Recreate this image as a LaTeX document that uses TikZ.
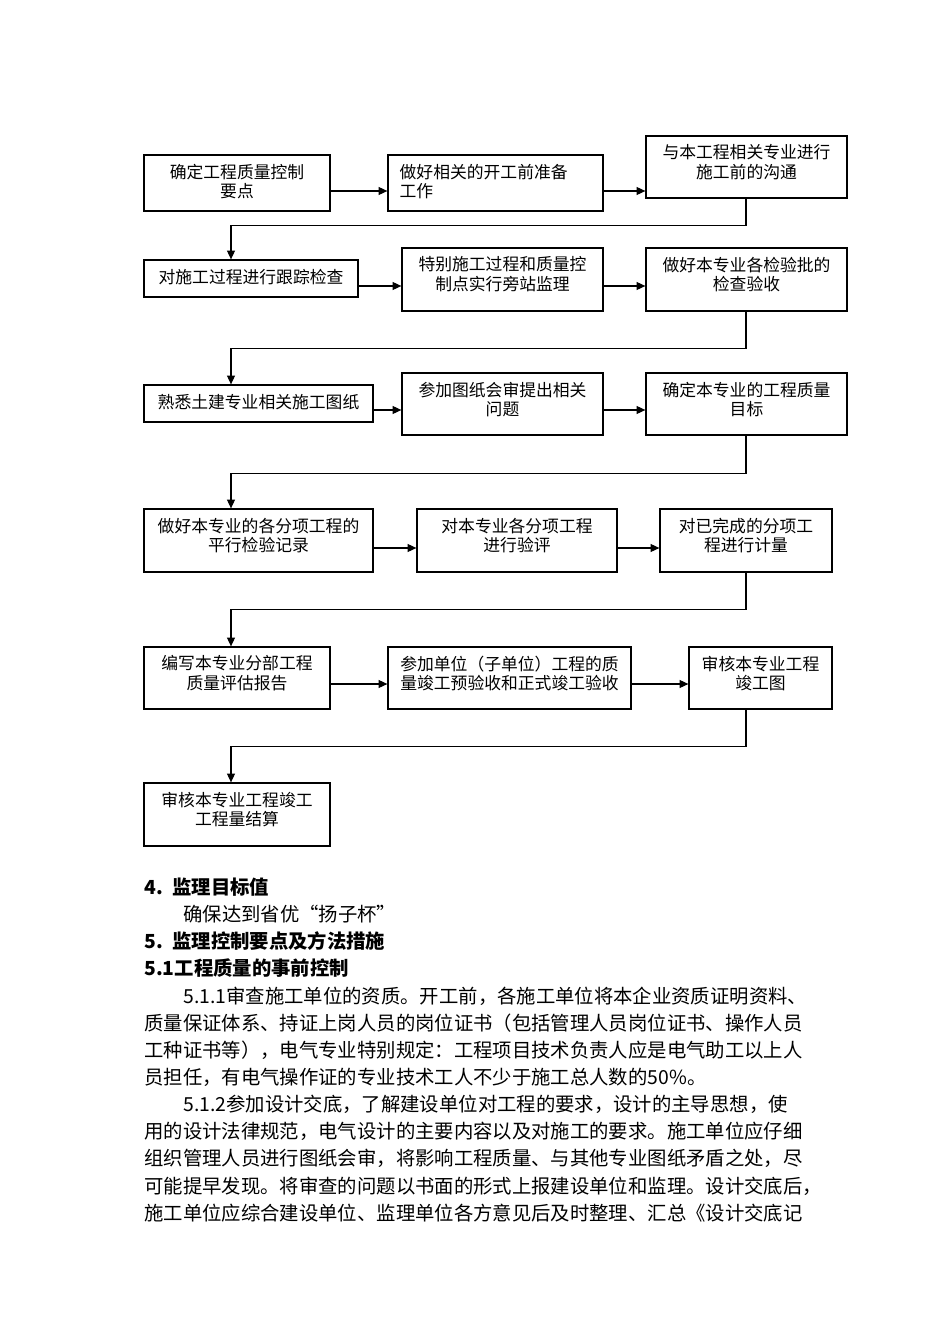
\documentclass[tikz,border=0pt]{standalone}
\usepackage{fontspec}
\newfontfamily\cjk{Noto Sans CJK SC}
\usetikzlibrary{arrows.meta,fit,calc}
\XeTeXlinebreaklocale "zh"
\XeTeXlinebreakskip=0pt plus 1pt
\begin{document}
\begin{tikzpicture}[x=0.625pt,y=-0.625pt,
  box/.style={draw, line width=0.8pt, inner sep=0pt},
  ft/.style={font=\cjk\fontsize{10.5}{12.2}\selectfont, align=center, inner sep=0pt},
  arr/.style={line width=0.7pt, -{Triangle[length=5.5pt,width=5pt]}},
  bt/.style={font=\cjk\fontsize{12.1}{15}\selectfont, anchor=base west, inner sep=0pt},
  hd/.style={font=\cjk\bfseries\fontsize{12.1}{15}\selectfont, anchor=base west, inner sep=0pt}]
\fill[white] (0,0) rectangle (950,1344);
\useasboundingbox (0,0) rectangle (950,1344);

% boxes
\node[box, fit={(144,155) (330,211)}] (A) {};
\node[box, fit={(388,155) (603,211)}] (B) {};
\node[box, fit={(646,136) (847,198)}] (C) {};
\node[box, fit={(144,260) (358,297)}] (D) {};
\node[box, fit={(402,248) (603,311)}] (E) {};
\node[box, fit={(646,248) (847,311)}] (F) {};
\node[box, fit={(144,385) (373,422)}] (G) {};
\node[box, fit={(402,373) (603,435)}] (H) {};
\node[box, fit={(646,373) (847,435)}] (I) {};
\node[box, fit={(144,509) (373,572)}] (J) {};
\node[box, fit={(417,509) (617,572)}] (K) {};
\node[box, fit={(660,509) (832,572)}] (L) {};
\node[box, fit={(144,647) (330,709)}] (M) {};
\node[box, fit={(388,647) (631,709)}] (N) {};
\node[box, fit={(689,647) (832,709)}] (O) {};
\node[box, fit={(144,783) (330,846)}] (P) {};

% box texts
\node[ft] (tA) at ($(A.north)+(0,27)$) {确定工程质量控制\\要点};
\node[ft, align=left, anchor=west] (tB) at ($(B.north west)+(12,27)$) {做好相关的开工前准备\\工作};
\node[ft] (tC) at ($(C.north)+(0,27)$) {与本工程相关专业进行\\施工前的沟通};
\node[ft] (tD) at ($(D.center)+(0,-1)$) {对施工过程进行跟踪检查};
\node[ft] (tE) at ($(E.north)+(0,27)$) {特别施工过程和质量控\\制点实行旁站监理};
\node[ft] (tF) at ($(F.north)+(0,27)$) {做好本专业各检验批的\\检查验收};
\node[ft] (tG) at ($(G.center)+(0,-1)$) {熟悉土建专业相关施工图纸};
\node[ft] (tH) at ($(H.north)+(0,27)$) {参加图纸会审提出相关\\问题};
\node[ft] (tI) at ($(I.north)+(0,27)$) {确定本专业的工程质量\\目标};
\node[ft] (tJ) at ($(J.north)+(0,27)$) {做好本专业的各分项工程的\\平行检验记录};
\node[ft] (tK) at ($(K.north)+(0,27)$) {对本专业各分项工程\\进行验评};
\node[ft] (tL) at ($(L.north)+(0,27)$) {对已完成的分项工\\程进行计量};
\node[ft] (tM) at ($(M.north)+(0,27)$) {编写本专业分部工程\\质量评估报告};
\node[ft] (tN) at ($(N.north)+(0,27)$) {参加单位（子单位）工程的质\\量竣工预验收和正式竣工验收};
\node[ft] (tO) at ($(O.north)+(0,27)$) {审核本专业工程\\竣工图};
\node[ft] (tP) at ($(P.north)+(0,27)$) {审核本专业工程竣工\\工程量结算};

% row levels
\coordinate (r1) at (0,191);
\coordinate (r2) at (0,286);
\coordinate (r3) at (0,410);
\coordinate (r4) at (0,548);
\coordinate (r5) at (0,684);
\coordinate (rx) at (746,0);
\coordinate (lx) at (231,0);

% horizontal arrows
\draw[arr] (A.east |- r1) -- (B.west |- r1);
\draw[arr] (B.east |- r1) -- (C.west |- r1);
\draw[arr] (D.east |- r2) -- (E.west |- r2);
\draw[arr] (E.east |- r2) -- (F.west |- r2);
\draw[arr] (G.east |- r3) -- (H.west |- r3);
\draw[arr] (H.east |- r3) -- (I.west |- r3);
\draw[arr] (J.east |- r4) -- (K.west |- r4);
\draw[arr] (K.east |- r4) -- (L.west |- r4);
\draw[arr] (M.east |- r5) -- (N.west |- r5);
\draw[arr] (N.east |- r5) -- (O.west |- r5);

% return connectors
\draw[arr] (C.south -| rx) -- ++(0,27) -| (D.north -| lx);
\draw[arr] (F.south -| rx) -- ++(0,37) -| (G.north -| lx);
\draw[arr] (I.south -| rx) -- ++(0,38) -| (J.north -| lx);
\draw[arr] (L.south -| rx) -- ++(0,37) -| (M.north -| lx);
\draw[arr] (O.south -| rx) -- ++(0,37) -| (P.north -| lx);

% text section
\node[hd] (h4) at (144,894) {\makebox[17.5pt][l]{4.}监理目标值};
\node[bt] (q1) at (183,921) {确保达到省优“扬子杯”};
\node[hd] (h5) at (144,948) {\makebox[17.5pt][l]{5.}监理控制要点及方法措施};
\node[hd] (h51) at (144,975) {5.1工程质量的事前控制};
\node[bt] (p1) at (183,1003) {5.1.1审查施工单位的资质。开工前，各施工单位将本企业资质证明资料、};
\node[bt] (p2) at (144,1030) {质量保证体系、持证上岗人员的岗位证书（包括管理人员岗位证书、操作人员};
\node[bt] (p3) at (144,1057) {工种证书等），电气专业特别规定：工程项目技术负责人应是电气助工以上人};
\node[bt] (p4) at (144,1084) {员担任，有电气操作证的专业技术工人不少于施工总人数的50\%。};
\node[bt] (p5) at (183,1111) {\makebox[387.5pt][s]{5.1.2参加设计交底，了解建设单位对工程的要求，设计的主导思想，使}};
\node[bt] (p6) at (144,1138) {用的设计法律规范，电气设计的主要内容以及对施工的要求。施工单位应仔细};
\node[bt] (p7) at (144,1165) {组织管理人员进行图纸会审，将影响工程质量、与其他专业图纸矛盾之处，尽};
\node[bt] (p8) at (144,1193) {可能提早发现。将审查的问题以书面的形式上报建设单位和监理。设计交底后，};
\node[bt] (p9) at (144,1220) {施工单位应综合建设单位、监理单位各方意见后及时整理、汇总《设计交底记};
\end{tikzpicture}
\end{document}
